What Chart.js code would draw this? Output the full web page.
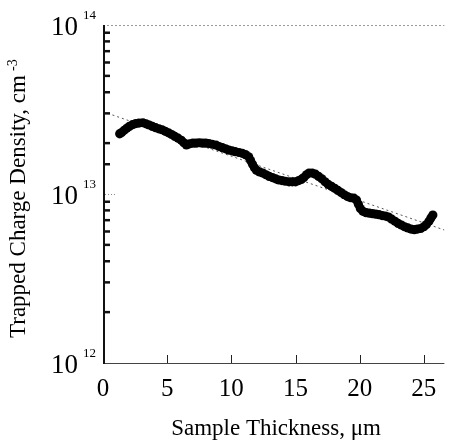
<!DOCTYPE html>
<html>
<head>
<meta charset="utf-8">
<script src="https://cdn.jsdelivr.net/npm/chart.js@4/dist/chart.umd.min.js"></script>
<style>
  html, body { margin: 0; padding: 0; background: #fff; }
  #wrap { width: 449px; height: 441px; }
</style>
</head>
<body>
<div id="wrap"><canvas id="chart" width="449" height="441"></canvas></div>
<script>
const thickness = [
  1.3, 1.45, 1.65, 1.85, 2.05, 2.3, 2.55, 2.8, 3.1, 3.35, 3.6, 3.85, 4.1, 4.35, 4.6, 4.85,
  5.1, 5.35, 5.6, 5.85, 6.1, 6.3, 6.5, 6.75, 7.0, 7.25, 7.5, 7.75, 8.0, 8.25, 8.5, 8.8,
  9.05, 9.3, 9.55, 9.8, 10.05, 10.3, 10.6, 10.85, 11.1, 11.35, 11.5, 11.65, 11.8, 11.95,
  12.2, 12.45, 12.7, 12.95, 13.2, 13.45, 13.7, 13.95, 14.2, 14.5, 14.75, 15.0, 15.25,
  15.45, 15.65, 15.85, 16.05, 16.3, 16.55, 16.8, 17.05, 17.3, 17.55, 17.8, 18.05, 18.3,
  18.55, 18.8, 19.05, 19.3, 19.55, 19.75, 19.9, 20.05, 20.25, 20.5, 20.75, 21.0, 21.25,
  21.5, 21.75, 22.0, 22.25, 22.5, 22.75, 23.0, 23.25, 23.5, 23.75, 24.0, 24.25, 24.5,
  24.75, 25.0, 25.2, 25.4, 25.55, 25.7
];
const density = [
  2.27e13, 2.31e13, 2.38e13, 2.45e13, 2.51e13, 2.57e13, 2.61e13, 2.63e13, 2.64e13, 2.60e13,
  2.56e13, 2.51e13, 2.47e13, 2.43e13, 2.40e13, 2.35e13, 2.30e13, 2.25e13, 2.19e13, 2.14e13,
  2.08e13, 2.01e13, 1.95e13, 1.98e13, 2.00e13, 2.00e13, 2.01e13, 2.00e13, 2.00e13, 1.99e13,
  1.97e13, 1.95e13, 1.91e13, 1.88e13, 1.85e13, 1.82e13, 1.80e13, 1.78e13, 1.76e13, 1.74e13,
  1.71e13, 1.66e13, 1.58e13, 1.50e13, 1.43e13, 1.38e13, 1.35e13, 1.33e13, 1.30e13, 1.27e13,
  1.25e13, 1.23e13, 1.21e13, 1.20e13, 1.19e13, 1.18e13, 1.18e13, 1.18e13, 1.20e13, 1.22e13,
  1.25e13, 1.30e13, 1.33e13, 1.33e13, 1.31e13, 1.27e13, 1.23e13, 1.18e13, 1.14e13, 1.11e13,
  1.08e13, 1.05e13, 1.02e13, 9.9e12, 9.65e12, 9.5e12, 9.45e12, 9.2e12, 8.7e12, 8.2e12,
  7.9e12, 7.75e12, 7.7e12, 7.65e12, 7.6e12, 7.55e12, 7.45e12, 7.4e12, 7.3e12, 7.1e12,
  6.9e12, 6.7e12, 6.55e12, 6.4e12, 6.3e12, 6.2e12, 6.15e12, 6.2e12, 6.25e12, 6.4e12,
  6.6e12, 6.9e12, 7.2e12, 7.5e12
];

// exponential fit (straight line on the log axis)
const fitThickness = [0, 26.6];
const fitDensity = [3.07e13, 6.12e12];

// axes
const xTicks = [0, 5, 10, 15, 20, 25];
const yExponents = [12, 13, 14];
const xTitle = 'Sample Thickness, \u03bcm';
const yTitle = 'Trapped Charge Density, cm';
const yTitleSup = '-3';

const serif = '"Liberation Serif", "Times New Roman", serif';

// axes, ticks and text are drawn here so the ticks can point inwards
const frame = {
  id: 'frame',
  afterDraw(chart) {
    const { ctx, chartArea: a } = chart;
    const x = chart.scales.x;
    const y = chart.scales.y;
    ctx.save();

    const seg = (x1, y1, x2, y2) => {
      ctx.beginPath();
      ctx.moveTo(x1, y1);
      ctx.lineTo(x2, y2);
      ctx.stroke();
    };

    // dotted top edge
    ctx.strokeStyle = '#9a9a9a';
    ctx.lineWidth = 1;
    ctx.setLineDash([2, 2]);
    seg(a.left, a.top + 0.5, a.right, a.top + 0.5);

    // short dotted mark at 10^13
    const p13 = Math.round(y.getPixelForValue(1e13)) + 0.5;
    ctx.strokeStyle = '#888';
    ctx.setLineDash([1, 2]);
    seg(a.left + 2, p13, a.left + 14, p13);
    ctx.setLineDash([]);

    // bottom axis
    ctx.strokeStyle = '#444';
    ctx.lineWidth = 1;
    seg(a.left, a.bottom + 0.5, a.right, a.bottom + 0.5);
    ctx.strokeStyle = '#222';
    xTicks.forEach(v => {
      if (v === 0) return;
      const px = Math.round(x.getPixelForValue(v)) + 0.5;
      seg(px, a.bottom, px, a.bottom - 8);
    });

    // left axis
    ctx.strokeStyle = '#111';
    ctx.lineWidth = 2;
    seg(a.left + 1, a.top, a.left + 1, a.bottom + 1);

    // minor ticks on the log axis
    ctx.lineWidth = 2.5;
    y.ticks.forEach(t => {
      const lg = Math.log10(t.value);
      if (Math.abs(lg - Math.round(lg)) < 1e-6) return;
      const py = y.getPixelForValue(t.value);
      seg(a.left + 1, py, a.left + 7, py);
    });

    // tick labels
    ctx.fillStyle = '#000';
    ctx.font = '25px ' + serif;
    ctx.textAlign = 'center';
    ctx.textBaseline = 'middle';
    xTicks.forEach(v => {
      ctx.fillText(String(v), x.getPixelForValue(v), a.bottom + 26);
    });

    yExponents.forEach(e => {
      const py = y.getPixelForValue(Math.pow(10, e));
      ctx.font = '27px ' + serif;
      ctx.textAlign = 'right';
      ctx.fillText('10', 78, py + 3);
      ctx.font = '13px ' + serif;
      ctx.textAlign = 'left';
      ctx.fillText(String(e), 83, py - 9);
    });

    // axis titles
    ctx.font = '23px ' + serif;
    ctx.textAlign = 'center';
    ctx.textBaseline = 'alphabetic';
    ctx.fillText(xTitle, 276, 435);

    ctx.translate(25, 338);
    ctx.rotate(-Math.PI / 2);
    ctx.textAlign = 'left';
    ctx.fillText(yTitle, 0, 0);
    const w = ctx.measureText(yTitle).width;
    ctx.font = '14px ' + serif;
    ctx.fillText(yTitleSup, w + 4, -8);

    ctx.restore();
  }
};

const points = thickness.map((t, i) => ({ x: t, y: density[i] }));
const fit = fitThickness.map((t, i) => ({ x: t, y: fitDensity[i] }));

new Chart(document.getElementById('chart').getContext('2d'), {
  type: 'scatter',
  data: {
    datasets: [
      {
        label: 'data',
        data: points,
        pointRadius: 4.6,
        pointBackgroundColor: '#000',
        pointBorderWidth: 0,
        order: 1
      },
      {
        label: 'fit',
        data: fit,
        showLine: true,
        pointRadius: 0,
        borderColor: '#555',
        borderWidth: 1,
        borderDash: [2, 3],
        order: 2
      }
    ]
  },
  options: {
    responsive: false,
    animation: false,
    layout: { padding: { top: 25, right: 2, left: 0, bottom: 0 } },
    plugins: { legend: { display: false }, tooltip: { enabled: false } },
    scales: {
      x: {
        type: 'linear',
        min: 0,
        max: 26.6,
        ticks: { display: false, stepSize: 5 },
        grid: { display: false, drawTicks: false },
        border: { display: false },
        afterFit: s => { s.height = 78; }
      },
      y: {
        type: 'logarithmic',
        min: 1e12,
        max: 1e14,
        ticks: { display: false },
        grid: { display: false, drawTicks: false },
        border: { display: false },
        afterFit: s => { s.width = 103; }
      }
    }
  },
  plugins: [frame]
});
</script>
</body>
</html>
